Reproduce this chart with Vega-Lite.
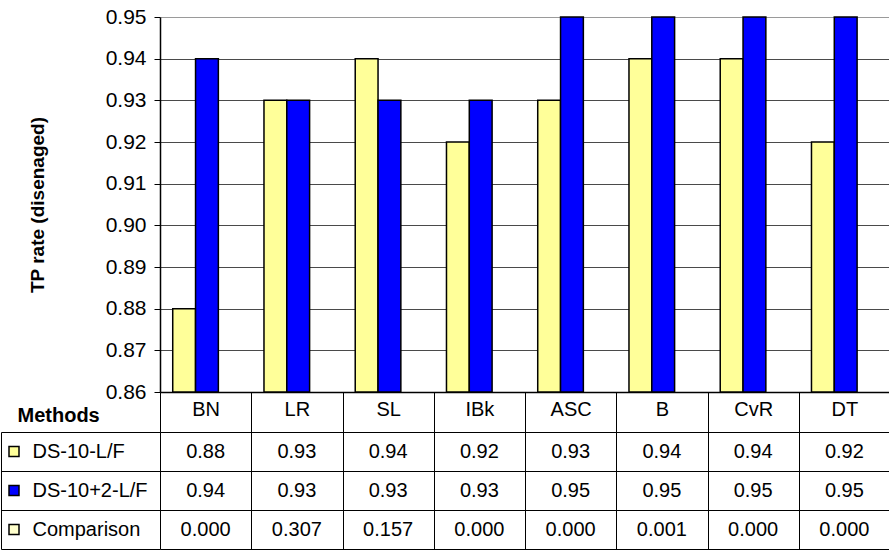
{
  "$schema": "https://vega.github.io/schema/vega-lite/v6.json",
  "background": "white",
  "padding": {"left": 0, "top": 6, "right": 0, "bottom": 0},
  "datasets": {
    "rates": [
      {"method": "BN", "series": "DS-10-L/F", "rate": 0.88},
      {"method": "BN", "series": "DS-10+2-L/F", "rate": 0.94},
      {"method": "LR", "series": "DS-10-L/F", "rate": 0.93},
      {"method": "LR", "series": "DS-10+2-L/F", "rate": 0.93},
      {"method": "SL", "series": "DS-10-L/F", "rate": 0.94},
      {"method": "SL", "series": "DS-10+2-L/F", "rate": 0.93},
      {"method": "IBk", "series": "DS-10-L/F", "rate": 0.92},
      {"method": "IBk", "series": "DS-10+2-L/F", "rate": 0.93},
      {"method": "ASC", "series": "DS-10-L/F", "rate": 0.93},
      {"method": "ASC", "series": "DS-10+2-L/F", "rate": 0.95},
      {"method": "B", "series": "DS-10-L/F", "rate": 0.94},
      {"method": "B", "series": "DS-10+2-L/F", "rate": 0.95},
      {"method": "CvR", "series": "DS-10-L/F", "rate": 0.94},
      {"method": "CvR", "series": "DS-10+2-L/F", "rate": 0.95},
      {"method": "DT", "series": "DS-10-L/F", "rate": 0.92},
      {"method": "DT", "series": "DS-10+2-L/F", "rate": 0.95}
    ],
    "comparison": [
      {"method": "BN", "p": 0.000},
      {"method": "LR", "p": 0.307},
      {"method": "SL", "p": 0.157},
      {"method": "IBk", "p": 0.000},
      {"method": "ASC", "p": 0.000},
      {"method": "B", "p": 0.001},
      {"method": "CvR", "p": 0.000},
      {"method": "DT", "p": 0.000}
    ]
  },
  "spacing": 40,
  "bounds": "flush",
  "resolve": {"scale": {"x": "independent", "y": "independent", "color": "independent"}},
  "vconcat": [
    {
      "width": 730,
      "height": 375,
      "data": {"name": "rates"},
      "mark": {"type": "bar", "stroke": "black", "strokeWidth": 1.5},
      "encoding": {
        "x": {
          "field": "method",
          "type": "nominal",
          "sort": ["BN", "LR", "SL", "IBk", "ASC", "B", "CvR", "DT"],
          "scale": {"paddingInner": 0, "paddingOuter": 0},
          "axis": {
            "orient": "bottom",
            "labelAngle": 0,
            "labelFontSize": 20,
            "labelBaseline": "middle",
            "labelPadding": -23,
            "tickBand": "extent",
            "tickSize": 40,
            "tickWidth": 1,
            "domainWidth": 1.5,
            "grid": false,
            "title": "Methods",
            "titleFontSize": 20,
            "titleFontWeight": "bold",
            "titleAlign": "left",
            "titleBaseline": "middle",
            "titleX": -143,
            "titleY": 23
          }
        },
        "xOffset": {
          "field": "series",
          "sort": ["DS-10-L/F", "DS-10+2-L/F"],
          "scale": {"paddingInner": 0, "paddingOuter": 1.2256, "align": 0.279}
        },
        "y": {
          "field": "rate",
          "type": "quantitative",
          "scale": {"domain": [0.86, 0.95], "zero": false, "nice": false},
          "axis": {
            "values": [0.86, 0.87, 0.88, 0.89, 0.9, 0.91, 0.92, 0.93, 0.94, 0.95],
            "format": ".2f",
            "labelFontSize": 21,
            "labelPadding": 8,
            "tickSize": 6,
            "domainWidth": 1.5,
            "grid": true,
            "gridColor": {"condition": {"test": "datum.value > 0.945", "value": "#9a9a9a"}, "value": "#4a4a4a"},
            "gridWidth": 1.2,
            "title": "TP rate (disenaged)",
            "titleFontSize": 19,
            "titleFontWeight": "bold",
            "titlePadding": 58
          }
        },
        "y2": {"datum": 0.86},
        "color": {
          "field": "series",
          "type": "nominal",
          "scale": {
            "domain": ["DS-10-L/F", "DS-10+2-L/F", "Comparison"],
            "range": ["#FFFF99", "#0000FF", "#FFFFCC"]
          },
          "legend": {
            "orient": "none",
            "legendX": -152,
            "legendY": 415,
            "title": null,
            "padding": 0,
            "symbolType": "square",
            "symbolSize": 100,
            "symbolStrokeColor": "black",
            "symbolStrokeWidth": 1.5,
            "symbolOpacity": 1,
            "labelExpr": "''",
            "labelFontSize": 10,
            "clipHeight": 39,
            "rowPadding": 0
          }
        }
      }
    },
    {
      "width": 730,
      "height": 117,
      "encoding": {
        "x": {
          "field": "method",
          "type": "nominal",
          "sort": ["BN", "LR", "SL", "IBk", "ASC", "B", "CvR", "DT"],
          "scale": {"paddingInner": 0, "paddingOuter": 0},
          "axis": {
            "grid": true,
            "tickBand": "extent",
            "gridColor": "black",
            "gridOpacity": 1,
            "labels": false,
            "ticks": false,
            "domain": false,
            "title": null
          }
        }
      },
      "layer": [
        {
          "data": {"name": "rates"},
          "mark": {"type": "text", "fontSize": 20, "color": "black", "baseline": "middle"},
          "encoding": {
            "y": {
              "field": "series",
              "type": "nominal",
              "scale": {
                "domain": ["DS-10-L/F", "DS-10+2-L/F", "Comparison"],
                "paddingInner": 0,
                "paddingOuter": 0
              },
              "axis": {
                "orient": "left",
                "offset": 159,
                "tickSize": -159,
                "tickBand": "extent",
                "tickColor": "black",
                "domainColor": "black",
                "grid": true,
                "gridColor": "black",
                "gridOpacity": 1,
                "labelAlign": "left",
                "labelBaseline": "middle",
                "labelPadding": 128,
                "labelFontSize": 20,
                "title": null
              }
            },
            "text": {"field": "rate", "type": "quantitative", "format": ".2f"}
          }
        },
        {
          "data": {"name": "comparison"},
          "mark": {"type": "text", "fontSize": 20, "color": "black", "baseline": "middle"},
          "encoding": {
            "y": {"datum": "Comparison", "type": "nominal"},
            "text": {"field": "p", "type": "quantitative", "format": ".3f"}
          }
        }
      ]
    }
  ],
  "config": {
    "font": "Liberation Sans",
    "view": {"stroke": null},
    "axis": {
      "labelColor": "black",
      "titleColor": "black",
      "domainColor": "black",
      "tickColor": "black"
    }
  }
}
